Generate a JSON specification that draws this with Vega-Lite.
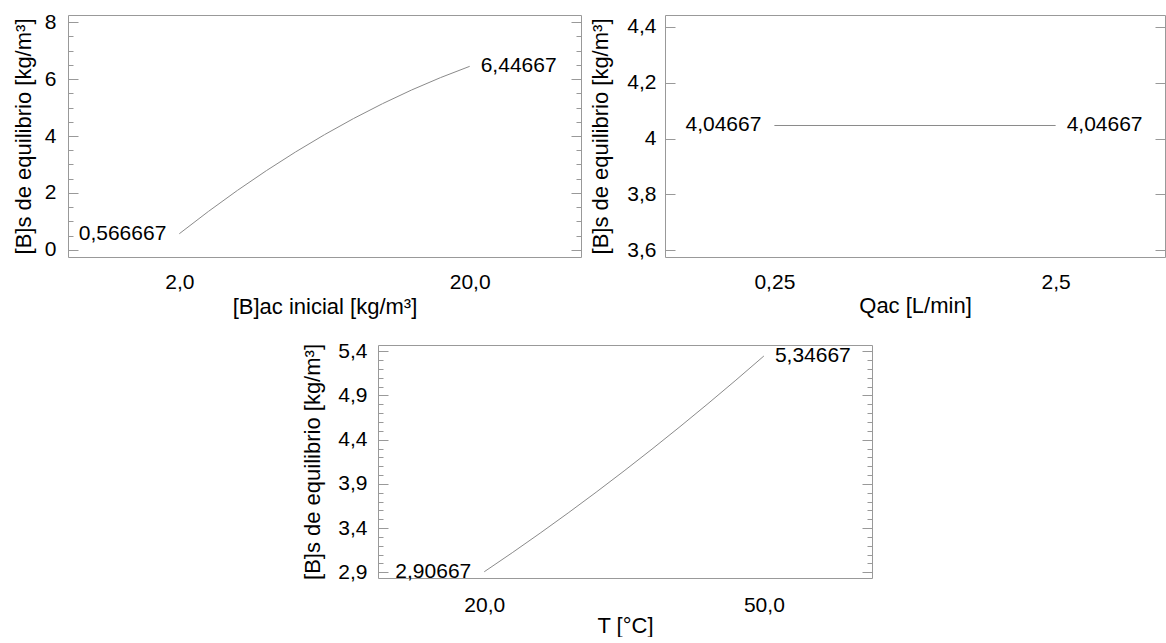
{
  "$schema": "https://vega.github.io/schema/vega-lite/v6.json",
  "padding": {"left": 11, "top": 10, "right": 0, "bottom": 0},
  "background": "white",
  "config": {
    "view": {"stroke": "#999999", "strokeWidth": 1},
    "font": "Liberation Sans",
    "axis": {
      "labelFont": "Liberation Sans", "labelFontSize": 21, "labelColor": "#000000",
      "titleFont": "Liberation Sans", "titleFontSize": 22, "titleFontWeight": "normal", "titleColor": "#000000",
      "tickColor": "#999999", "tickWidth": 1, "grid": false, "domain": false
    },
    "text": {"font": "Liberation Sans", "fontSize": 21, "color": "#000000"},
    "line": {"color": "#8a8a8a", "strokeWidth": 1}
  },
  "datasets": {
    "c1": [
      {"x": 2, "y": 0.566667}, {"x": 3.8, "y": 1.3491}, {"x": 5.6, "y": 2.0883}, {"x": 7.4, "y": 2.7843},
      {"x": 9.2, "y": 3.4371}, {"x": 11, "y": 4.04667}, {"x": 12.8, "y": 4.6131}, {"x": 14.6, "y": 5.1363},
      {"x": 16.4, "y": 5.6163}, {"x": 18.2, "y": 6.0531}, {"x": 20, "y": 6.44667}
    ],
    "l1": [
      {"x": 2, "y": 0.566667, "label": "0,566667", "pos": "start"},
      {"x": 20, "y": 6.44667, "label": "6,44667", "pos": "end"}
    ],
    "c2": [
      {"x": 0.25, "y": 4.04667}, {"x": 1.375, "y": 4.04667}, {"x": 2.5, "y": 4.04667}
    ],
    "l2": [
      {"x": 0.25, "y": 4.04667, "label": "4,04667", "pos": "start"},
      {"x": 2.5, "y": 4.04667, "label": "4,04667", "pos": "end"}
    ],
    "c3": [
      {"x": 20, "y": 2.90667}, {"x": 23, "y": 3.1219}, {"x": 26, "y": 3.3435}, {"x": 29, "y": 3.5715},
      {"x": 32, "y": 3.8059}, {"x": 35, "y": 4.04667}, {"x": 38, "y": 4.2939}, {"x": 41, "y": 4.5475},
      {"x": 44, "y": 4.8075}, {"x": 47, "y": 5.0739}, {"x": 50, "y": 5.34667}
    ],
    "l3": [
      {"x": 20, "y": 2.90667, "label": "2,90667", "pos": "start"},
      {"x": 50, "y": 5.34667, "label": "5,34667", "pos": "end"}
    ]
  },
  "vconcat": [
    {
      "hconcat": [
        {
          "width": 513, "height": 242,
          "data": {"name": "c1"},
          "encoding": {
            "x": {"field": "x", "type": "quantitative", "scale": {"domain": [-4.9, 26.9], "nice": false, "zero": false},
              "axis": {"values": [2, 20], "labelExpr": "replace(format(datum.value, '.1f'), '.', ',')", "ticks": false, "labelPadding": 14, "titlePadding": 4, "title": "[B]ac inicial [kg/m³]"}}
          },
          "layer": [
            {
              "mark": {"type": "line"},
              "encoding": {
                "y": {"field": "y", "type": "quantitative", "scale": {"domain": [-0.25, 8.25], "nice": false, "zero": false},
                  "axis": {"orient": "left", "values": [0, 2, 4, 6, 8], "labelExpr": "replace(format(datum.value, '~g'), '.', ',')", "tickSize": -10, "labelPadding": 22, "titlePadding": 9, "title": "[B]s de equilibrio [kg/m³]"}}
              }
            },
            {
              "mark": {"type": "line", "opacity": 0},
              "encoding": {
                "y": {"field": "y", "type": "quantitative", "axis": {"orient": "left", "values": [0.5, 1, 1.5, 2.5, 3, 3.5, 4.5, 5, 5.5, 6.5, 7, 7.5], "labels": false, "tickSize": -5, "title": null}}
              }
            },
            {
              "mark": {"type": "line", "opacity": 0},
              "encoding": {
                "y": {"field": "y", "type": "quantitative", "axis": {"orient": "right", "values": [0, 2, 4, 6, 8], "labels": false, "tickSize": -10, "title": null}}
              }
            },
            {
              "mark": {"type": "line", "opacity": 0},
              "encoding": {
                "y": {"field": "y", "type": "quantitative", "axis": {"orient": "right", "values": [0.5, 1, 1.5, 2.5, 3, 3.5, 4.5, 5, 5.5, 6.5, 7, 7.5], "labels": false, "tickSize": -5, "title": null}}
              }
            },
            {
              "data": {"name": "l1"},
              "transform": [{"filter": "datum.pos === 'start'"}],
              "mark": {"type": "text", "align": "right", "baseline": "middle", "dx": -13},
              "encoding": {
                "y": {"field": "y", "type": "quantitative", "axis": null},
                "text": {"field": "label"}
              }
            },
            {
              "data": {"name": "l1"},
              "transform": [{"filter": "datum.pos === 'end'"}],
              "mark": {"type": "text", "align": "left", "baseline": "middle", "dx": 11},
              "encoding": {
                "y": {"field": "y", "type": "quantitative", "axis": null},
                "text": {"field": "label"}
              }
            }
          ],
          "resolve": {"axis": {"y": "independent"}}
        },
        {
          "width": 500, "height": 242,
          "data": {"name": "c2"},
          "encoding": {
            "x": {"field": "x", "type": "quantitative", "scale": {"domain": [-0.625, 3.375], "nice": false, "zero": false},
              "axis": {"values": [0.25, 2.5], "labelExpr": "replace(format(datum.value, '~g'), '.', ',')", "ticks": false, "labelPadding": 14, "titlePadding": 3, "title": "Qac [L/min]"}}
          },
          "layer": [
            {
              "mark": {"type": "line"},
              "encoding": {
                "y": {"field": "y", "type": "quantitative", "scale": {"domain": [3.575, 4.443], "nice": false, "zero": false},
                  "axis": {"orient": "left", "values": [3.6, 3.8, 4, 4.2, 4.4], "labelExpr": "replace(format(datum.value, '~g'), '.', ',')", "tickSize": -10, "labelPadding": 19, "titlePadding": 14, "title": "[B]s de equilibrio [kg/m³]"}}
              }
            },
            {
              "mark": {"type": "line", "opacity": 0},
              "encoding": {
                "y": {"field": "y", "type": "quantitative", "axis": {"orient": "right", "values": [3.6, 3.8, 4, 4.2, 4.4], "labels": false, "tickSize": -10, "title": null}}
              }
            },
            {
              "data": {"name": "l2"},
              "transform": [{"filter": "datum.pos === 'start'"}],
              "mark": {"type": "text", "align": "right", "baseline": "middle", "dx": -13},
              "encoding": {
                "y": {"field": "y", "type": "quantitative", "axis": null},
                "text": {"field": "label"}
              }
            },
            {
              "data": {"name": "l2"},
              "transform": [{"filter": "datum.pos === 'end'"}],
              "mark": {"type": "text", "align": "left", "baseline": "middle", "dx": 11},
              "encoding": {
                "y": {"field": "y", "type": "quantitative", "axis": null},
                "text": {"field": "label"}
              }
            }
          ],
          "resolve": {"axis": {"y": "independent"}}
        }
      ],
      "spacing": 7
    },
    {
      "hconcat": [
        {
          "width": 233, "height": 10,
          "view": {"stroke": null},
          "data": {"values": []},
          "mark": {"type": "point"}
        },
        {
          "width": 494, "height": 233,
          "data": {"name": "c3"},
          "encoding": {
            "x": {"field": "x", "type": "quantitative", "scale": {"domain": [8.6, 61.6], "nice": false, "zero": false},
              "axis": {"values": [20, 50], "labelExpr": "replace(format(datum.value, '.1f'), '.', ',')", "ticks": false, "labelPadding": 16, "titlePadding": 0, "title": "T [°C]"}}
          },
          "layer": [
            {
              "mark": {"type": "line"},
              "encoding": {
                "y": {"field": "y", "type": "quantitative", "scale": {"domain": [2.836, 5.471], "nice": false, "zero": false},
                  "axis": {"orient": "left", "values": [2.9, 3.4, 3.9, 4.4, 4.9, 5.4], "labelExpr": "replace(format(datum.value, '~g'), '.', ',')", "tickSize": -10, "labelPadding": 21, "titlePadding": 13, "title": "[B]s de equilibrio [kg/m³]"}}
              }
            },
            {
              "mark": {"type": "line", "opacity": 0},
              "encoding": {
                "y": {"field": "y", "type": "quantitative", "axis": {"orient": "left", "values": [3.0, 3.1, 3.2, 3.3, 3.5, 3.6, 3.7, 3.8, 4.0, 4.1, 4.2, 4.3, 4.5, 4.6, 4.7, 4.8, 5.0, 5.1, 5.2, 5.3], "labels": false, "tickSize": -5, "title": null}}
              }
            },
            {
              "mark": {"type": "line", "opacity": 0},
              "encoding": {
                "y": {"field": "y", "type": "quantitative", "axis": {"orient": "right", "values": [2.9, 3.4, 3.9, 4.4, 4.9, 5.4], "labels": false, "tickSize": -10, "title": null}}
              }
            },
            {
              "mark": {"type": "line", "opacity": 0},
              "encoding": {
                "y": {"field": "y", "type": "quantitative", "axis": {"orient": "right", "values": [3.0, 3.1, 3.2, 3.3, 3.5, 3.6, 3.7, 3.8, 4.0, 4.1, 4.2, 4.3, 4.5, 4.6, 4.7, 4.8, 5.0, 5.1, 5.2, 5.3], "labels": false, "tickSize": -5, "title": null}}
              }
            },
            {
              "data": {"name": "l3"},
              "transform": [{"filter": "datum.pos === 'start'"}],
              "mark": {"type": "text", "align": "right", "baseline": "middle", "dx": -13},
              "encoding": {
                "y": {"field": "y", "type": "quantitative", "axis": null},
                "text": {"field": "label"}
              }
            },
            {
              "data": {"name": "l3"},
              "transform": [{"filter": "datum.pos === 'end'"}],
              "mark": {"type": "text", "align": "left", "baseline": "middle", "dx": 11},
              "encoding": {
                "y": {"field": "y", "type": "quantitative", "axis": null},
                "text": {"field": "label"}
              }
            }
          ],
          "resolve": {"axis": {"y": "independent"}}
        }
      ],
      "spacing": 0
    }
  ],
  "spacing": 21
}
